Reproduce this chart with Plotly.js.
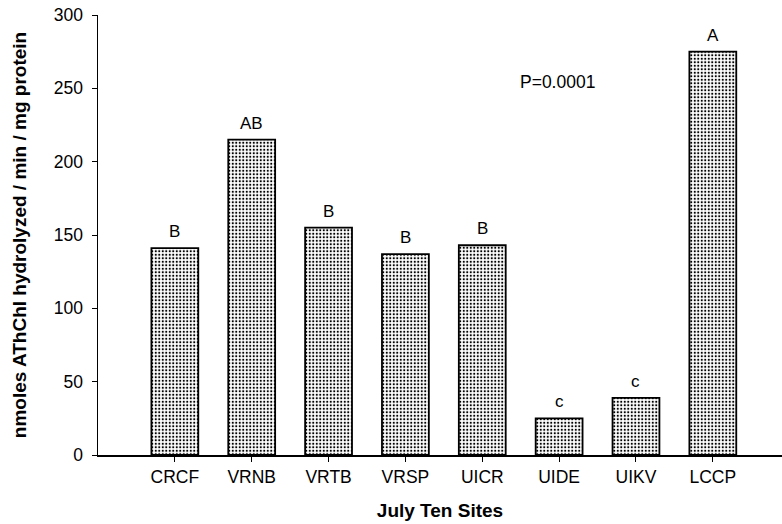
<!DOCTYPE html>
<html>
<head>
<meta charset="utf-8">
<script src="https://cdn.plot.ly/plotly-3.0.1.min.js"></script>
<style>html,body{margin:0;padding:0;background:#fff;}</style>
</head>
<body>
<div id="chart" style="width:782px;height:524px;"></div>
<script>
const sites = ["CRCF", "VRNB", "VRTB", "VRSP", "UICR", "UIDE", "UIKV", "LCCP"];
const activity = [141, 215, 155, 137, 143, 25, 39, 275];
const groups = ["B", "AB", "B", "B", "B", "c", "c", "A"];
const pLabel = "P=0.0001";

const font = "Liberation Sans, Arial, sans-serif";

const annotations = sites.map((s, i) => ({
  x: s, y: activity[i], xref: "x", yref: "y",
  text: groups[i], showarrow: false, yanchor: "bottom", yshift: 5,
  font: {family: font, size: 17, color: "#000"}
}));
annotations.push({
  x: 4.47, y: 254, xref: "x", yref: "y", text: pLabel, showarrow: false,
  xanchor: "left", yanchor: "middle", font: {family: font, size: 17.5, color: "#000"}
});

Plotly.newPlot("chart", [{
  type: "bar",
  x: sites,
  y: activity,
  width: 0.61,
  marker: {
    color: "#ffffff",
    line: {color: "#000", width: 1.8},
    pattern: {shape: ".", fgcolor: "#000", bgcolor: "#fff", size: 3.5, solidity: 0.3}
  },
  hoverinfo: "skip"
}], {
  width: 782, height: 524,
  margin: {l: 98, r: 0, t: 15, b: 69},
  paper_bgcolor: "#fff", plot_bgcolor: "#fff",
  showlegend: false,
  font: {family: font, size: 17.5, color: "#000"},
  xaxis: {
    type: "category", range: [-1, 7.9],
    showline: true, linecolor: "#000", linewidth: 1.5,
    ticks: "outside", ticklen: 5, tickcolor: "#000", tickwidth: 1,
    showgrid: false, zeroline: false,
    tickfont: {family: font, size: 17.5},
    title: {text: "<b>July Ten Sites</b>", font: {family: font, size: 19}, standoff: 18}
  },
  yaxis: {
    range: [0, 300], tickvals: [0, 50, 100, 150, 200, 250, 300],
    showline: true, linecolor: "#000", linewidth: 1.5,
    ticks: "outside", ticklen: 5, tickcolor: "#000", tickwidth: 1,
    ticklabelstandoff: 5,
    showgrid: false, zeroline: false,
    tickfont: {family: font, size: 17.5},
    title: {text: "<b>nmoles AThChI hydrolyzed / min / mg protein</b>", font: {family: font, size: 19}, standoff: 22}
  },
  annotations: annotations
}, {displayModeBar: false, staticPlot: true});
</script>
</body>
</html>
